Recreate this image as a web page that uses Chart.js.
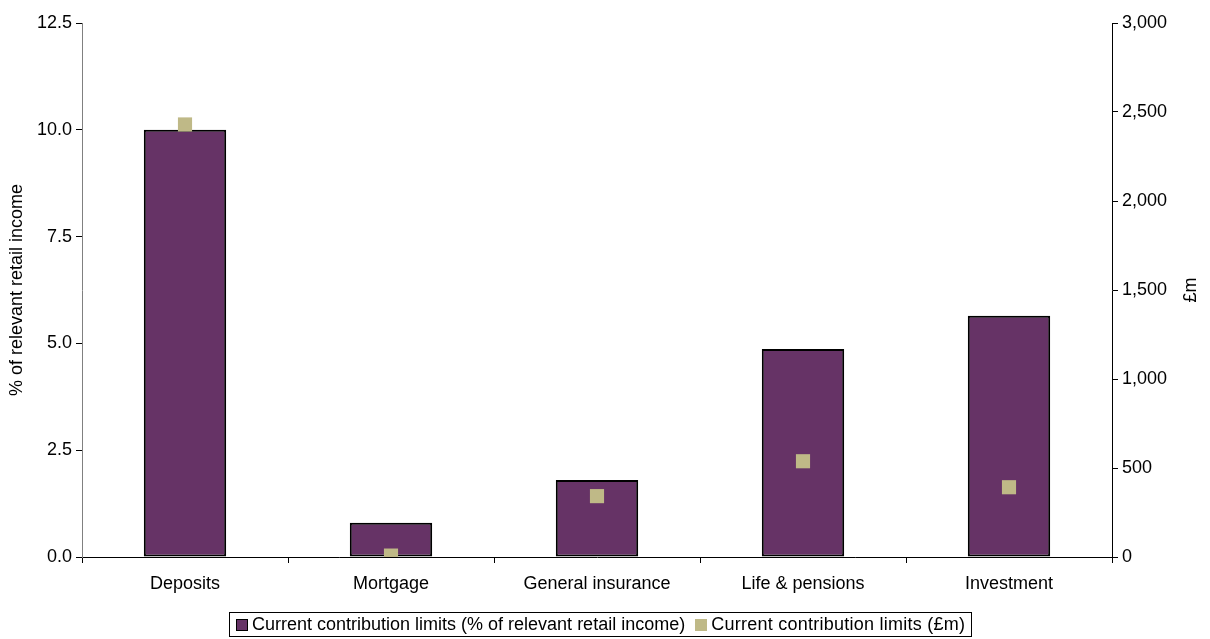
<!DOCTYPE html>
<html>
<head>
<meta charset="utf-8">
<script src="https://cdn.jsdelivr.net/npm/chart.js@4/dist/chart.umd.min.js"></script>
<style>
  html, body { margin: 0; padding: 0; background: #fff; }
  #wrap { width: 1210px; height: 639px; position: relative; }
  #legend {
    position: absolute; left: 229px; top: 612px; height: 25px; box-sizing: border-box;
    border: 1px solid #000; padding: 0 6px 0 6px; white-space: nowrap;
    font: 18px 'Liberation Sans', Arial, sans-serif; line-height: 23px; color: #000;
  }
  #legend .item { display: inline-block; }
  #legend .item + .item { margin-left: 10px; letter-spacing: 0.25px; }
  #legend .swatch { display: inline-block; width: 12px; height: 12px; margin-right: 4px; box-sizing: border-box; vertical-align: -1px; }
</style>
</head>
<body>
<div id="wrap">
  <canvas id="limitsChart"></canvas>
  <div id="legend"></div>
</div>
<script>
// contribution limits by sector
const categories = ["Deposits", "Mortgage", "General insurance", "Life & pensions", "Investment"];
const pctIncome = [10.0, 0.8, 1.8, 4.87, 5.65];
const amountGbpM = [2430, 8, 342, 538, 392];
const leftTicks = [0, 2.5, 5, 7.5, 10, 12.5];
const rightTicks = [0, 500, 1000, 1500, 2000, 2500, 3000];

const font = { family: "'Liberation Sans', Arial, sans-serif", size: 18 };

// right axis title, reads bottom-to-top like the left one
const rightTitle = {
  id: 'rightTitle',
  afterDraw(chart) {
    const c = chart.ctx;
    const area = chart.chartArea;
    c.save();
    c.translate(1191, (area.top + area.bottom) / 2);
    c.rotate(-Math.PI / 2);
    c.font = `${font.size}px ${font.family}`;
    c.fillStyle = '#000';
    c.textAlign = 'center';
    c.textBaseline = 'middle';
    c.fillText('£m', 0, 0);
    c.restore();
  }
};

const ctx = document.getElementById("limitsChart").getContext("2d");
const chart = new Chart(ctx, {
  type: "bar",
  data: {
    labels: categories,
    datasets: [
      {
        label: "Current contribution limits (% of relevant retail income)",
        data: pctIncome,
        backgroundColor: "#663366",
        borderColor: "#000",
        borderWidth: 2,
        borderSkipped: false,
        barPercentage: 0.4,
        categoryPercentage: 1,
        yAxisID: "y",
        order: 2
      },
      {
        type: "line",
        label: "Current contribution limits (£m)",
        data: amountGbpM,
        showLine: false,
        pointStyle: "rect",
        pointRadius: 10,
        pointHoverRadius: 10,
        pointBorderWidth: 0,
        backgroundColor: "#BFB987",
        borderColor: "#BFB987",
        yAxisID: "y1",
        order: 1
      }
    ]
  },
  options: {
    responsive: true,
    maintainAspectRatio: false,
    animation: false,
    layout: { padding: { top: 23, bottom: 25, left: 0, right: 0 } },
    plugins: {
      tooltip: { enabled: false },
      legend: { display: false }
    },
    scales: {
      x: {
        ticks: { font: font, color: "#000", padding: 10 },
        grid: { drawOnChartArea: false, color: "#000", tickLength: 6 },
        border: { color: "#000" },
        afterFit(s) { s.height = 57; }
      },
      y: {
        position: "left",
        min: 0,
        max: 12.5,
        afterBuildTicks(s) { s.ticks = leftTicks.map(v => ({ value: v })); },
        ticks: { font: font, color: "#000", padding: 4, callback: v => v.toFixed(1) },
        grid: { drawOnChartArea: false, color: "#000", tickLength: 6 },
        border: { color: "#808080" },
        title: { display: true, text: "% of relevant retail income", font: font, color: "#000", padding: { top: 6, bottom: 0 } },
        afterFit(s) { s.width = 82; }
      },
      y1: {
        position: "right",
        min: 0,
        max: 3000,
        afterBuildTicks(s) { s.ticks = rightTicks.map(v => ({ value: v })); },
        ticks: { font: font, color: "#000", padding: 4, callback: v => v.toLocaleString("en-GB") },
        grid: { drawOnChartArea: false, color: "#000", tickLength: 6 },
        border: { color: "#000" },
        afterFit(s) { s.width = 98; }
      }
    }
  },
  plugins: [rightTitle]
});

// legend built from the datasets
const legend = document.getElementById("legend");
chart.data.datasets.forEach((ds, i) => {
  const item = document.createElement("span");
  item.className = "item";
  const sw = document.createElement("span");
  sw.className = "swatch";
  sw.style.background = ds.backgroundColor;
  if (i === 0) sw.style.border = "1px solid #000";
  item.appendChild(sw);
  item.appendChild(document.createTextNode(ds.label));
  legend.appendChild(item);
});
</script>
</body>
</html>
